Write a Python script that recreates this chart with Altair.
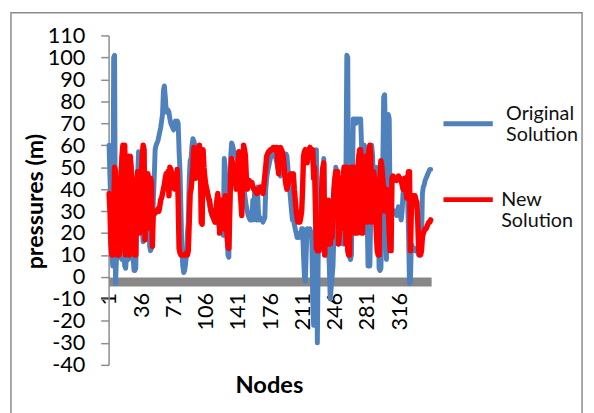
import altair as alt
import pandas as pd

node_labels = [1, 36, 71, 106, 141, 176, 211, 246, 281, 316]
y_ticks = list(range(-40, 111, 10))
series_names = ["Original Solution", "New Solution"]
series_colors = ["#4f81bd", "#ff0000"]

original = [
    60, 45, 30, 12, 5, 100, 101, -3, 8, 10,
    30, 9, 45, 10, 8, 35, 12, 5, 4, 10,
    50, 8, 40, 12, 35, 20, 10, 3, 3, 4,
    30, 45, 57, 55, 40, 30, 22, 16, 17, 35,
    45, 40, 38, 25, 14, 12, 13, 20, 35, 45,
    58, 60, 61, 62, 64, 66, 68, 71, 74, 85,
    87, 82, 76, 75, 76, 75, 72, 70, 69, 68,
    67, 68, 71, 70, 71, 70, 57, 48, 30, 12,
    5, 2, 3, 6, 10, 20, 25, 45, 53, 54,
    60, 63, 62, 60, 58, 57, 55, 53, 52, 50,
    50, 48, 45, 44, 42, 40, 40, 38, 35, 33,
    30, 29, 28, 30, 27, 25, 27, 28, 26, 24,
    22, 21, 20, 20, 19, 54, 50, 20, 18, 10,
    9, 40, 55, 61, 60, 58, 57, 56, 55, 54,
    52, 45, 44, 42, 40, 40, 41, 38, 35, 32,
    30, 28, 27, 26, 28, 26, 35, 26, 40, 27,
    26, 41, 30, 26, 27, 26, 26, 25, 26, 27,
    40, 45, 48, 50, 52, 54, 55, 58, 57, 56,
    55, 54, 52, 50, 48, 47, 46, 48, 50, 52,
    54, 55, 56, 55, 50, 45, 40, 35, 30, 26,
    27, 24, 22, 20, 18, 18, 19, 20, 18, 22,
    22, 10, 0, -2, 12, 22, 21, 20, 22, 20,
    18, -10, -22, 12, 18, 58, -30, 12, 15, 20,
    25, 18, 20, 54, 12, 20, 25, 22, 15, 5,
    -10, -5, 0, 5, 20, 15, 50, 48, 25, 15,
    20, 45, 44, 30, 15, 25, 40, 45, 101, 100,
    10, 9, 8, 10, 40, 72, 72, 72, 70, 72,
    72, 71, 72, 72, 60, 26, 50, 60, 58, 50,
    30, 5, 5, 5, 30, 60, 55, 40, 25, 30,
    50, 25, 30, 4, 3, 4, 20, 50, 82, 83,
    60, 8, 50, 74, 72, 30, 30, 31, 30, 29,
    30, 30, 28, 30, 32, 30, 28, 26, 30, 38,
    40, 42, 40, 38, 35, 20, -3, -2, 15, 14,
    13, 12, 12, 13, 12, 11, 10, 11, 12, 14,
    38, 41, 42, 44, 45, 46, 47, 48, 49, 49,
]

new = [
    38, 30, 15, 10, 10, 30, 50, 48, 12, 10,
    40, 10, 12, 45, 55, 60, 58, 60, 10, 12,
    50, 55, 10, 55, 50, 12, 40, 38, 10, 10,
    45, 48, 30, 20, 40, 45, 55, 60, 58, 17,
    40, 22, 47, 45, 28, 45, 43, 14, 30, 30,
    29, 30, 30, 31, 30, 32, 35, 36, 38, 40,
    42, 45, 47, 45, 48, 37, 50, 49, 47, 45,
    42, 40, 40, 45, 49, 35, 13, 11, 10, 10,
    10, 10, 10, 10, 11, 10, 12, 25, 38, 40,
    45, 50, 59, 55, 45, 50, 55, 58, 60, 57,
    25, 24, 58, 50, 45, 42, 40, 38, 36, 35,
    32, 30, 28, 27, 26, 25, 30, 35, 38, 30,
    20, 25, 35, 25, 22, 30, 37, 35, 20, 14,
    13, 30, 48, 54, 52, 48, 48, 44, 40, 42,
    52, 57, 40, 35, 28, 45, 60, 58, 55, 45,
    40, 43, 44, 43, 42, 43, 41, 40, 40, 39,
    38, 38, 40, 40, 41, 40, 39, 38, 42, 46,
    50, 55, 56, 57, 57, 58, 58, 58, 59, 59,
    58, 59, 59, 52, 47, 55, 59, 58, 57, 55,
    50, 45, 42, 40, 42, 44, 46, 47, 46, 45,
    47, 40, 35, 30, 27, 25, 26, 25, 27, 30,
    40, 55, 57, 58, 57, 52, 56, 58, 59, 58,
    57, 58, 45, 50, 30, 13, 12, 13, 12, 20,
    25, 45, 50, 52, 10, 25, 35, 30, 35, 15,
    15, 20, 18, 30, 40, 45, 48, 47, 48, 15,
    20, 25, 22, 40, 45, 50, 48, 15, 50, 12,
    10, 10, 45, 50, 25, 50, 48, 20, 45, 20,
    50, 55, 58, 58, 20, 20, 45, 50, 55, 25,
    25, 50, 58, 60, 55, 25, 30, 48, 45, 30,
    20, 12, 10, 10, 45, 53, 50, 45, 40, 30,
    35, 40, 38, 30, 20, 12, 12, 45, 46, 45,
    45, 45, 44, 45, 46, 45, 45, 44, 42, 40,
    42, 45, 40, 36, 45, 48, 48, 12, 30, 37,
    37, 36, 37, 35, 34, 25, 12, 10, 10, 12,
    18, 20, 21, 22, 22, 23, 24, 25, 25, 26,
]

nodes = list(range(1, len(original) + 1))
df = pd.DataFrame({"Node": nodes, series_names[0]: original, series_names[1]: new})

FONT = "Lato"
W, H = 327, 334
n = len(nodes)

x_enc = alt.X(
    "Node:Q",
    scale=alt.Scale(domain=[0.5, n + 0.5], nice=False, zero=False),
    axis=alt.Axis(
        values=node_labels, labelAngle=270, grid=False, ticks=False, tickSize=0,
        offset=-(H * 40 / 150) + 4.5, domainColor="#878787", domainWidth=9,
        labelFont=FONT, labelFontSize=22, labelColor="#000000", labelPadding=11,
        labelFlush=False, labelOverlap=False,
        title="Nodes", titleFont=FONT, titleFontSize=24, titleFontWeight="bold",
        titleColor="#000000", titleX=162.5, titleY=106, titleAlign="center",
        titleBaseline="middle",
    ),
)
y_enc = alt.Y(
    "Pressure:Q",
    scale=alt.Scale(domain=[-40, 110], nice=False, zero=False),
    axis=alt.Axis(
        values=y_ticks, grid=False, domainColor="#8c8c8c", domainWidth=1.5,
        tickColor="#8c8c8c", tickWidth=1.5, tickSize=8,
        labelFont=FONT, labelFontSize=22, labelColor="#000000", labelPadding=16,
        labelFlush=False, labelOverlap=False,
        labelExpr="datum.value < 0 ? '-' + abs(datum.value) : '' + datum.value",
        title="pressures (m)", titleFont=FONT, titleFontSize=23.5, titleFontWeight="bold",
        titleColor="#000000", titleX=-74, titleY=H / 2 + 1, titleAngle=270,
        titleAlign="center", titleBaseline="middle",
    ),
)


def series_layer(idx, legend_y, label_offset, baseline, width):
    name = series_names[idx]
    first, second = name.split(" ")
    return (
        alt.Chart(df)
        .transform_fold([name], as_=["Series", "Pressure"])
        .mark_line(strokeWidth=width, strokeJoin="round", strokeCap="round")
        .encode(
            x=x_enc,
            y=y_enc,
            color=alt.Color(
                "Series:N",
                scale=alt.Scale(domain=[name], range=[series_colors[idx]]),
                legend=alt.Legend(
                    title=None, orient="none", legendX=337, legendY=legend_y,
                    symbolType="stroke", symbolSize=2500, symbolStrokeWidth=5,
                    labelFont=FONT, labelFontSize=20, labelColor="#111111",
                    labelOffset=label_offset, labelBaseline=baseline,
                    labelExpr=f"['{first}', '{second}']", labelLimit=200,
                ),
            ),
        )
    )


blue = series_layer(0, 62, 11, "bottom", 5)
red = series_layer(1, 139, 6, "middle", 5.5)

frame = (
    alt.Chart(pd.DataFrame({"frame": [0]}))
    .mark_rect(filled=False, stroke="#8c8c8c", strokeWidth=1.5)
    .encode(x=alt.value(-99), x2=alt.value(480), y=alt.value(-23), y2=alt.value(400))
)

chart = (
    alt.layer(frame, blue, red)
    .resolve_scale(color="independent")
    .resolve_legend(color="independent")
    .properties(
        width=W, height=H,
        autosize=alt.AutoSizeParams(type="none"),
        padding={"left": 102, "top": 25, "right": 157, "bottom": 46},
        background="#ffffff",
    )
    .configure_view(strokeWidth=0)
)

chart.save("out.html", embed_options={"renderer": "svg", "actions": False})
